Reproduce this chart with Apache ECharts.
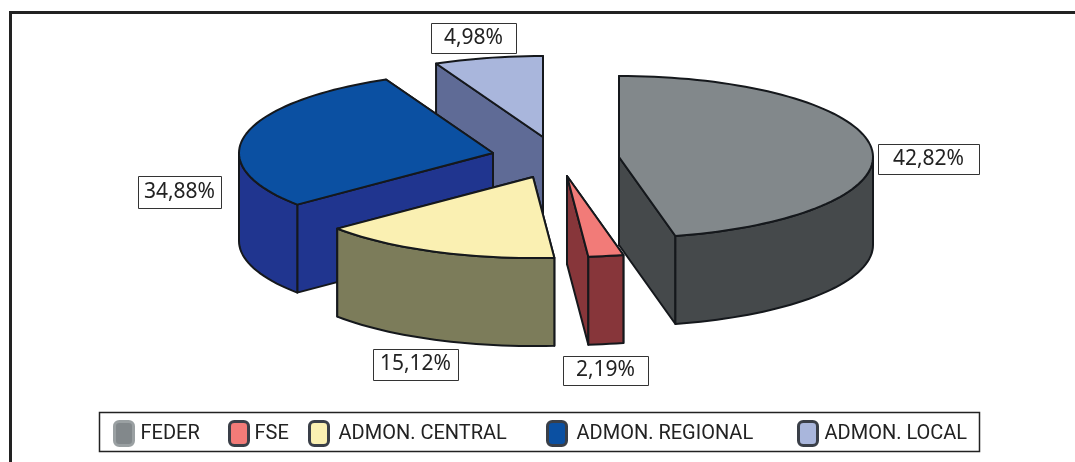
<!DOCTYPE html>
<html>
<head>
<meta charset="utf-8">
<script src="https://cdn.jsdelivr.net/npm/echarts@6/dist/echarts.min.js"></script>
<style>
  html, body { margin: 0; padding: 0; background: #fff; }
  #chart { width: 1075px; height: 462px; }
</style>
</head>
<body>
<div id="chart"></div>
<script>
// data
const categories = ['FEDER', 'FSE', 'ADMON. CENTRAL', 'ADMON. REGIONAL', 'ADMON. LOCAL'];
const shares = [42.82, 2.19, 15.12, 34.88, 4.98];

// look of each slice, same order as categories
const topColors = ['#82888b', '#f27b78', '#faf0b2', '#0b50a2', '#a9b6dc'];
const sideColors = ['#45494b', '#87363a', '#7c7c5a', '#20358f', '#5f6b96'];
// where the apex of each exploded slice sits
const apex = [[619, 157], [567, 176], [533, 177], [493, 153], [543, 137]];
const labelBox = [[878, 144, 101, 30], [563, 356, 85, 29], [373, 349, 85, 31], [138, 176, 83, 32], [431, 23, 85, 30]];
const legendLeft = [113, 228, 308, 546, 797];
const legendTextLeft = [139, 253, 337, 575, 823];
const paintOrder = [4, 3, 2, 0, 1];

const RX = 254, RY = 81, DEPTH = 88;
const FONT = '"Noto Sans", sans-serif';

// the original 3D view is not a true ellipse, wide slices get stretched.
// [true angle, drawn angle]
const warp = [[0, 0], [154, 167], [216, 230], [342, 335], [360, 360]];
function warpAngle(a) {
  for (let i = 1; i < warp.length; i++) {
    if (a <= warp[i][0]) {
      const t = (a - warp[i - 1][0]) / (warp[i][0] - warp[i - 1][0]);
      return warp[i - 1][1] + t * (warp[i][1] - warp[i - 1][1]);
    }
  }
  return 360;
}

const total = shares.reduce((a, b) => a + b, 0);
function startShare(i) {
  return shares.slice(0, i).reduce((a, b) => a + b, 0);
}

function rim(c, deg, dy) {
  const r = deg * Math.PI / 180;
  return [c[0] + RX * Math.sin(r), c[1] - RY * Math.cos(r) + (dy || 0)];
}
function arc(c, from, to, dy) {
  const pts = [];
  const n = Math.max(2, Math.ceil((to - from) / 2));
  for (let k = 0; k <= n; k++) pts.push(rim(c, from + (to - from) * k / n, dy));
  return pts;
}
function poly(points, fill) {
  return {
    type: 'polygon',
    shape: { points: points },
    style: { fill: fill, stroke: '#15181c', lineWidth: 2, lineJoin: 'round' }
  };
}
function radialWall(c, deg, fill) {
  const o = rim(c, deg);
  return poly([c, o, [o[0], o[1] + DEPTH], [c[0], c[1] + DEPTH]], fill);
}

function renderSlice(i, api) {
  const value = api.value(0);
  const from = warpAngle(startShare(i) / total * 360);
  const to = warpAngle((startShare(i) + value) / total * 360);
  const c = apex[i];
  const kids = [];

  // back radial wall first so the front one covers it
  const walls = [from, to].sort((a, b) => rim(c, a)[1] - rim(c, b)[1]);
  walls.forEach(a => kids.push(radialWall(c, a, sideColors[i])));

  const a0 = Math.max(from, 90), a1 = Math.min(to, 270);
  if (a1 > a0) {
    const upper = arc(c, a0, a1, 0);
    const lower = arc(c, a0, a1, DEPTH).reverse();
    kids.push(poly(upper.concat(lower), sideColors[i]));
  }
  kids.push(poly([c].concat(arc(c, from, to, 0)), topColors[i]));

  const b = labelBox[i];
  const text = value.toFixed(2).replace('.', ',') + '%';
  kids.push({
    type: 'rect',
    z2: 50,
    shape: { x: b[0] + 0.5, y: b[1] + 0.5, width: b[2], height: b[3] },
    style: { fill: '#fff', stroke: '#333', lineWidth: 1 }
  });
  kids.push({
    type: 'text',
    z2: 51,
    style: {
      x: b[0] + b[2] / 2, y: b[1] + b[3] / 2,
      text: text, align: 'center', verticalAlign: 'middle',
      font: '21px ' + FONT, fill: '#222'
    }
  });
  return { type: 'group', children: kids };
}

const series = paintOrder.map((i, order) => ({
  type: 'custom',
  name: categories[i],
  coordinateSystem: 'none',
  z: 2 + order,
  silent: true,
  itemStyle: { color: topColors[i] },
  data: [[shares[i]]],
  renderItem: (params, api) => renderSlice(i, api)
}));

const ICON_W = 19;
const legends = categories.map((name, i) => ({
  left: legendLeft[i],
  top: 420,
  padding: 0,
  itemWidth: ICON_W,
  itemHeight: 24,
  selectedMode: false,
  icon: 'roundRect',
  textStyle: {
    fontFamily: 'Roboto, sans-serif',
    fontSize: 20,
    color: '#222',
    padding: [0, 0, 0, legendTextLeft[i] - legendLeft[i] - ICON_W - 5]
  },
  data: [{
    name: name,
    itemStyle: {
      color: topColors[i],
      borderColor: i === 0 ? '#9aa0a2' : '#3a3f48',
      borderWidth: 3
    }
  }]
}));

const chart = echarts.init(document.getElementById('chart'), null, { renderer: 'canvas' });
chart.setOption({
  animation: false,
  backgroundColor: '#fff',
  tooltip: { show: false },
  legend: legends,
  series: series,
  graphic: [
    {
      type: 'polyline',
      silent: true,
      shape: { points: [[10.5, 462], [10.5, 12.5], [1075, 12.5]] },
      style: { stroke: '#222', lineWidth: 3, fill: null }
    },
    {
      type: 'rect',
      silent: true,
      z: -1,
      shape: { x: 99.5, y: 412.5, width: 880, height: 39 },
      style: { fill: '#fff', stroke: '#222', lineWidth: 1.5 }
    }
  ]
});
</script>
</body>
</html>
